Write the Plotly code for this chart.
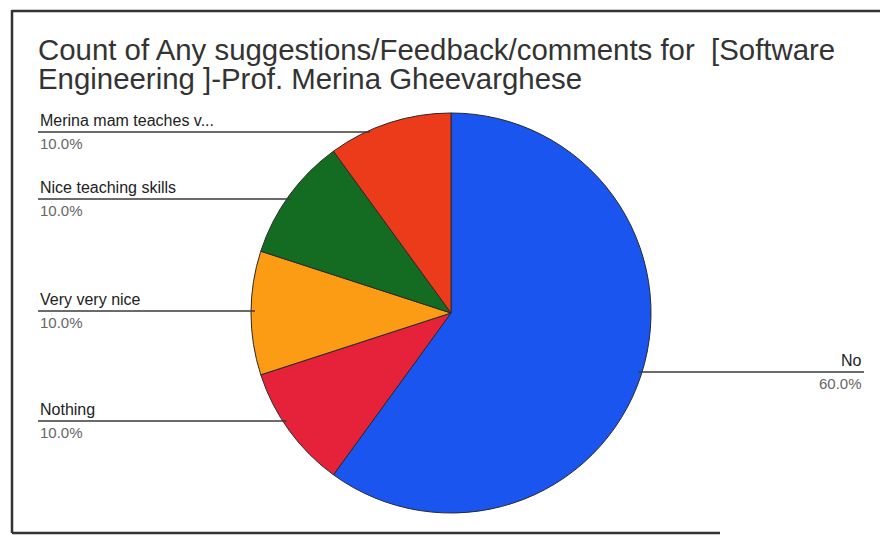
import math
import plotly.graph_objects as go

# ---- data ----
labels = ["No", "Nothing", "Very very nice", "Nice teaching skills", "Merina mam teaches v..."]
counts = [6, 1, 1, 1, 1]
slice_colors = ["#1a55f0", "#e6223a", "#fb9c14", "#146c22", "#ec3b1b"]
title_lines = [
    "Count of Any suggestions/Feedback/comments for  [Software",
    "Engineering ]-Prof. Merina Gheevarghese",
]

# ---- layout (pixels) ----
W, H = 882, 536
cx, cy, r = 451, 313, 200
label_side = ["right", "left", "left", "left", "left"]
leader_y = [372, 421, 311, 199, 132]
left_x, right_x = 38, 864


def px(x):
    return x / W


def py(y):
    return 1 - y / H


fig = go.Figure(
    go.Pie(
        labels=labels,
        values=counts,
        sort=False,
        direction="clockwise",
        rotation=0,
        textinfo="none",
        hoverinfo="label+percent",
        marker=dict(colors=slice_colors, line=dict(color="#2a2a2a", width=1)),
        domain=dict(x=[px(cx - r), px(cx + r)], y=[py(cy + r), py(cy - r)]),
        showlegend=False,
    )
)

total = sum(counts)
annotations = []
shapes = []
for lab, c, side, ly in zip(labels, counts, label_side, leader_y):
    pct = f"{100 * c / total:.1f}%"
    dx = math.sqrt(max(r * r - (ly - cy) ** 2, 0))
    if side == "left":
        x0, x1 = left_x, cx - dx + 4
        tx, anc = left_x, "left"
    else:
        x0, x1 = cx + dx - 4, right_x
        tx, anc = right_x, "right"
    shapes.append(dict(type="line", xref="paper", yref="paper",
                       x0=px(x0), x1=px(x1), y0=py(ly), y1=py(ly),
                       line=dict(color="#3a3a3a", width=1.5)))
    annotations.append(dict(text=lab, x=px(tx), y=py(ly - 1), xref="paper", yref="paper",
                            xanchor=anc, yanchor="bottom", showarrow=False,
                            font=dict(family="Liberation Sans, Arial", size=16, color="#222")))
    annotations.append(dict(text=pct, x=px(tx), y=py(ly + 1), xref="paper", yref="paper",
                            xanchor=anc, yanchor="top", showarrow=False,
                            font=dict(family="Liberation Sans, Arial", size=15, color="#666")))

for i, t in enumerate(title_lines):
    annotations.append(dict(text=t, x=px(36), y=py(31 + 29 * i), xref="paper", yref="paper",
                            xanchor="left", yanchor="top", showarrow=False,
                            font=dict(family="Liberation Sans, Arial", size=29.4, color="#333")))

# frame of the photographed chart
frame = [(12, 10, 12, 533), (12, 11, 880, 11), (12, 533, 720, 533)]
for (x0, y0, x1, y1) in frame:
    shapes.append(dict(type="line", xref="paper", yref="paper",
                       x0=px(x0), x1=px(x1), y0=py(y0), y1=py(y1),
                       line=dict(color="#333", width=2.5)))

fig.update_layout(
    width=W, height=H,
    margin=dict(l=0, r=0, t=0, b=0),
    paper_bgcolor="white", plot_bgcolor="white",
    annotations=annotations, shapes=shapes,
)
fig.write_html("out.html", config={"displayModeBar": False},
               post_script="document.body.style.margin='0';document.body.style.overflow='hidden';")
